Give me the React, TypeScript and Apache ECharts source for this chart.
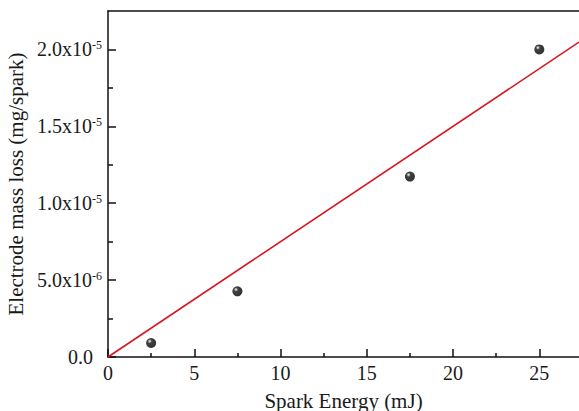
import React, { useEffect, useRef } from "react";
import * as echarts from "echarts";

const sparkEnergy = [2.5, 7.5, 17.5, 25];
const massLoss = [9.1e-7, 4.27e-6, 1.173e-5, 2.0e-5];
const fitLine = [
  [0, 0],
  [27.3, 2.0475e-5],
];
const xMajorTicks = [0, 5, 10, 15, 20, 25];
const xMinorTicks = [2.5, 7.5, 12.5, 17.5, 22.5];
const yMajorTicks = [0, 5e-6, 1e-5, 1.5e-5, 2e-5];
const yMinorTicks = [2.5e-6, 7.5e-6, 1.25e-5, 1.75e-5];
const yTickMantissas = ["0.0", "5.0", "1.0", "1.5", "2.0"];
const yTickExponents = ["", "-6", "-5", "-5", "-5"];

const FONT = "Liberation Serif";
const TXT = "#1a1a1a";

export default function App() {
  const ref = useRef<HTMLDivElement>(null);
  useEffect(() => {
    if (!ref.current) return;
    const chart = echarts.init(ref.current, null, { renderer: "svg" });
    const xMin = 0,
      xMax = 27.3,
      yMin = 0,
      yMax = 2.25e-5;
    const yLabel = (v: number) => {
      let idx = 0;
      let best = Infinity;
      yMajorTicks.forEach((t, i) => {
        const d = Math.abs(t - v);
        if (d < best) {
          best = d;
          idx = i;
        }
      });
      if (!yTickExponents[idx]) return `{a|${yTickMantissas[idx]}}{pad|}`;
      return `{a|${yTickMantissas[idx]}x10}{sup|${yTickExponents[idx]}}`;
    };
    const axisLineStyle = { color: "#111", width: 1.5 };
    chart.setOption({
      animation: false,
      backgroundColor: "#fff",
      grid: {
        left: 108,
        right: 0,
        top: 11,
        bottom: 54,
        outerBoundsMode: "none",
        containLabel: false,
      },
      xAxis: [
        {
          type: "value",
          min: xMin,
          max: xMax,
          position: "bottom",
          name: "Spark Energy (mJ)",
          nameLocation: "middle",
          nameGap: 33,
          nameTextStyle: { fontFamily: FONT, fontSize: 21, color: TXT },
          axisLine: { show: true, onZero: false, lineStyle: axisLineStyle },
          axisTick: {
            show: true,
            inside: true,
            length: 8,
            customValues: xMajorTicks,
            lineStyle: axisLineStyle,
          },
          axisLabel: {
            customValues: xMajorTicks,
            fontFamily: FONT,
            fontSize: 20,
            color: TXT,
            margin: 6,
          },
          splitLine: { show: false },
        },
        {
          type: "value",
          min: xMin,
          max: xMax,
          position: "bottom",
          axisLine: { show: false },
          axisTick: {
            show: true,
            inside: true,
            length: 4,
            customValues: xMinorTicks,
            lineStyle: axisLineStyle,
          },
          axisLabel: { show: false },
          splitLine: { show: false },
        },
        {
          type: "value",
          min: xMin,
          max: xMax,
          position: "top",
          axisLine: { show: true, onZero: false, lineStyle: axisLineStyle },
          axisTick: { show: false },
          axisLabel: { show: false },
          splitLine: { show: false },
        },
      ],
      yAxis: [
        {
          type: "value",
          min: yMin,
          max: yMax,
          position: "left",
          name: "Electrode mass loss (mg/spark)",
          nameLocation: "middle",
          nameGap: 80,
          nameTextStyle: { fontFamily: FONT, fontSize: 21, color: TXT },
          axisLine: { show: true, onZero: false, lineStyle: axisLineStyle },
          axisTick: {
            show: true,
            inside: true,
            length: 8,
            customValues: yMajorTicks,
            lineStyle: axisLineStyle,
          },
          axisLabel: {
            customValues: yMajorTicks,
            formatter: yLabel,
            margin: 6,
            rich: {
              a: { fontFamily: FONT, fontSize: 20, color: TXT },
              pad: { width: 9, fontSize: 12 },
              sup: {
                fontFamily: FONT,
                fontSize: 12,
                color: TXT,
                verticalAlign: "bottom",
                padding: [0, 0, 9, 0],
              },
            },
          },
          splitLine: { show: false },
        },
        {
          type: "value",
          min: yMin,
          max: yMax,
          position: "left",
          axisLine: { show: false },
          axisTick: {
            show: true,
            inside: true,
            length: 5,
            customValues: yMinorTicks,
            lineStyle: axisLineStyle,
          },
          axisLabel: { show: false },
          splitLine: { show: false },
        },
      ],
      series: [
        {
          type: "line",
          data: fitLine,
          showSymbol: false,
          symbol: "none",
          lineStyle: { color: "#d9161f", width: 1.6 },
          z: 2,
        },
        {
          type: "scatter",
          data: sparkEnergy.map((x, i) => [x, massLoss[i]]),
          symbolSize: 10,
          itemStyle: {
            color: new echarts.graphic.RadialGradient(0.36, 0.32, 0.66, [
              { offset: 0, color: "#ffffff" },
              { offset: 0.12, color: "#a8a8a8" },
              { offset: 0.32, color: "#111111" },
              { offset: 1, color: "#000000" },
            ]),
          },
          z: 3,
        },
      ],
    });
    return () => chart.dispose();
  }, []);
  return (
    <div
      ref={ref}
      style={{ position: "absolute", left: 0, top: 0, width: 579, height: 411 }}
    />
  );
}
